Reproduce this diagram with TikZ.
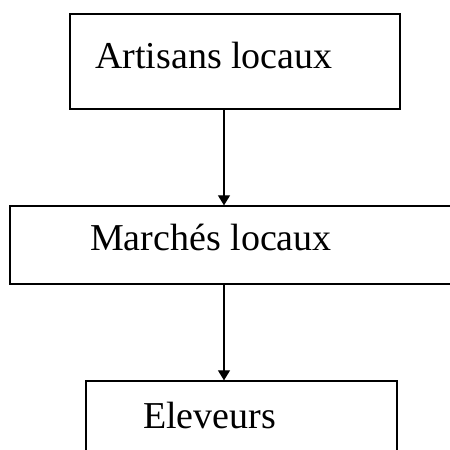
\documentclass[tikz,border=0pt]{standalone}
\usepackage{fontspec}
\setmainfont{Liberation Serif}
\usetikzlibrary{arrows.meta}
\begin{document}
\begin{tikzpicture}[x=1pt,y=-1pt,
  box/.style={draw=black,line width=1.3pt,inner sep=0pt,fill=none},
  lbl/.style={anchor=base west,inner sep=0pt,font=\fontsize{38}{42}\selectfont},
  flow/.style={line width=1.1pt,-{Triangle[length=10pt,width=12pt]}}]
  \useasboundingbox (0,0) rectangle (450,450);
  \clip (0,0) rectangle (450,450);
  \fill[white] (0,0) rectangle (450,450);
  % vertical axis shared by the connectors
  \coordinate (axis) at (224,0);
  % boxes
  \node[box,minimum width=330pt,minimum height=95pt] (artisans) at (235,61.5) {};
  \node[box,minimum width=450pt,minimum height=78pt] (marches) at (235,245) {};
  \node[box,minimum width=311pt,minimum height=89pt] (eleveurs) at (241.5,425.5) {};
  % labels
  \node[lbl] (tA) at (95,68) {Artisans locaux};
  \node[lbl] (tM) at (90,250) {Marchés locaux};
  \node[lbl] (tE) at (143,428) {Eleveurs};
  % connectors
  \draw[flow] (artisans.south -| axis) -- (marches.north -| axis);
  \draw[flow] (marches.south -| axis) -- (eleveurs.north -| axis);
\end{tikzpicture}
\end{document}
